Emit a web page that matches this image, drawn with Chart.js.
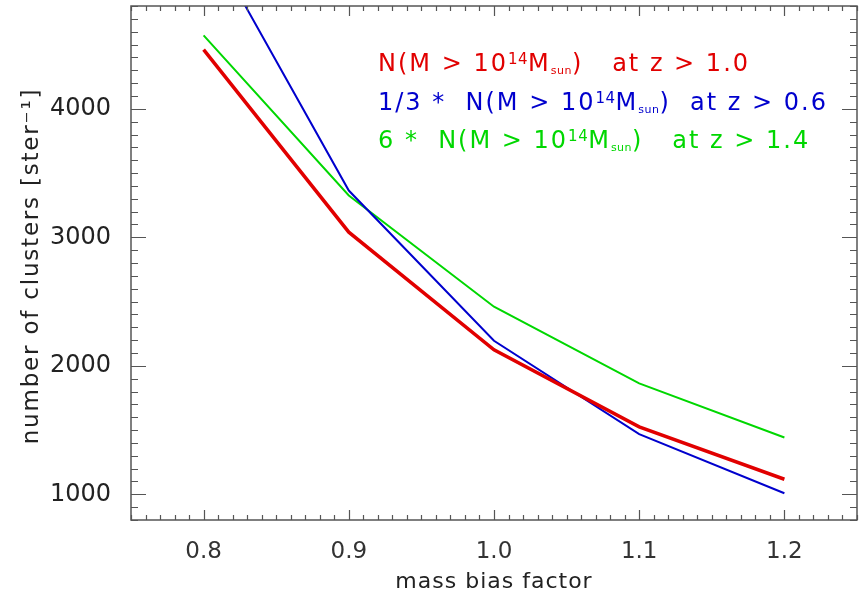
<!DOCTYPE html>
<html>
<head>
<meta charset="utf-8">
<script src="https://cdn.jsdelivr.net/npm/chart.js@4.4.1/dist/chart.umd.min.js"></script>
<style>
  html, body { margin: 0; background: #fff; }
  #wrap { width: 862px; height: 595px; position: relative; }
</style>
</head>
<body>
<div id="wrap"><canvas id="clusterChart"></canvas></div>
<script>
// ─── Data ───────────────────────────────────────────────────────────────────
const biasFactors = [0.8, 0.9, 1.0, 1.1, 1.2];
const countsZ10 = [4460, 3040, 2125, 1525, 1117];   // N(M>1e14) at z>1.0
const countsZ06 = [5380, 3364, 2195, 1468, 1008];   // 1/3 * N at z>0.6
const countsZ14 = [4571, 3325, 2460, 1863, 1442];   // 6 * N at z>1.4
const xTicks = [0.8, 0.9, 1.0, 1.1, 1.2];
const yTicks = [1000, 2000, 3000, 4000];
const xTitle = 'mass bias factor';
const yTitle = 'number of clusters [ster⁻¹]';

const RED = 'rgb(225,0,0)';
const BLUE = 'rgb(0,0,205)';
const GREEN = 'rgb(0,215,0)';
const FONT = "'DejaVu Sans', sans-serif";

// legend rows: [text, kind] where kind is n / sup / sub
const legendRows = [
  { color: RED, y: 71, runs: [['N(M > 10', 'n'], ['14', 'sup'], ['M', 'n'], ['sun', 'sub'], [')   at z > 1.0', 'n']] },
  { color: BLUE, y: 110, runs: [['1/3 *  N(M > 10', 'n'], ['14', 'sup'], ['M', 'n'], ['sun', 'sub'], [')  at z > 0.6', 'n']] },
  { color: GREEN, y: 148, runs: [['6 *  N(M > 10', 'n'], ['14', 'sup'], ['M', 'n'], ['sun', 'sub'], [')   at z > 1.4', 'n']] },
];

function toPoints(ys) {
  return biasFactors.map((x, i) => ({ x, y: ys[i] }));
}

// ─── Frame with inward ticks on all sides (IDL style) ───────────────────────
const framePlugin = {
  id: 'frame',
  afterDatasetsDraw(chart) {
    const { ctx, chartArea: a, scales: { x, y } } = chart;
    ctx.save();
    ctx.strokeStyle = '#555';
    ctx.lineWidth = 1.5;
    ctx.strokeRect(a.left, a.top, a.right - a.left, a.bottom - a.top);
    ctx.lineWidth = 1.2;
    ctx.beginPath();
    for (let v = 75; v <= 125; v++) {
      const px = Math.round(x.getPixelForValue(v / 100)) + 0.5;
      const len = v % 10 === 0 ? 10 : 5;
      ctx.moveTo(px, a.bottom); ctx.lineTo(px, a.bottom - len);
      ctx.moveTo(px, a.top); ctx.lineTo(px, a.top + len);
    }
    for (let v = 8; v <= 48; v++) {
      const py = Math.round(y.getPixelForValue(v * 100)) + 0.5;
      const len = v % 10 === 0 ? 15 : 7;
      ctx.moveTo(a.left, py); ctx.lineTo(a.left + len, py);
      ctx.moveTo(a.right, py); ctx.lineTo(a.right - len, py);
    }
    ctx.stroke();
    ctx.restore();
  }
};

// ─── Axis titles + coloured labels top right ────────────────────────────────
const labelPlugin = {
  id: 'labels',
  afterDraw(chart) {
    const { ctx, chartArea: a } = chart;
    ctx.save();
    const hasLS = 'letterSpacing' in ctx;

    // axis titles (drawn here so we can widen letter spacing like the IDL font)
    ctx.fillStyle = '#222';
    ctx.textAlign = 'center';
    ctx.textBaseline = 'alphabetic';
    ctx.font = `22px ${FONT}`;
    if (hasLS) ctx.letterSpacing = '1px';
    ctx.fillText(xTitle, (a.left + a.right) / 2, 588);

    ctx.save();
    ctx.translate(38, (a.top + a.bottom) / 2 + 3);
    ctx.rotate(-Math.PI / 2);
    ctx.font = `23px ${FONT}`;
    if (hasLS) ctx.letterSpacing = '1.8px';
    ctx.fillText(yTitle, 0, 0);
    ctx.restore();

    ctx.textAlign = 'left';
    legendRows.forEach(row => {
      let cx = 378;
      ctx.fillStyle = row.color;
      row.runs.forEach(([txt, kind]) => {
        let dy = 0;
        if (kind === 'sup') { ctx.font = `15px ${FONT}`; dy = -7; if (hasLS) ctx.letterSpacing = '0.5px'; }
        else if (kind === 'sub') { ctx.font = `11px ${FONT}`; dy = 3; if (hasLS) ctx.letterSpacing = '0.5px'; }
        else { ctx.font = `24px ${FONT}`; if (hasLS) ctx.letterSpacing = '2px'; }
        ctx.fillText(txt, cx, row.y + dy);
        cx += ctx.measureText(txt).width;
      });
    });
    ctx.restore();
  }
};

const lineBase = { pointRadius: 0, tension: 0, fill: false, clip: true };

new Chart(document.getElementById('clusterChart'), {
  type: 'line',
  data: {
    datasets: [
      { ...lineBase, label: 'z > 1.0', data: toPoints(countsZ10), borderColor: RED, borderWidth: 3.5 },
      { ...lineBase, label: 'z > 0.6', data: toPoints(countsZ06), borderColor: BLUE, borderWidth: 2 },
      { ...lineBase, label: 'z > 1.4', data: toPoints(countsZ14), borderColor: GREEN, borderWidth: 2 },
    ]
  },
  options: {
    responsive: true,
    maintainAspectRatio: false,
    animation: false,
    layout: { padding: { top: 6, right: 5, left: 0, bottom: 0 } },
    plugins: { legend: { display: false }, tooltip: { enabled: false } },
    scales: {
      x: {
        type: 'linear',
        min: 0.75,
        max: 1.25,
        afterBuildTicks: s => { s.ticks = xTicks.map(v => ({ value: v })); },
        afterFit: s => { s.height = 75; s.paddingLeft = 0; s.paddingRight = 0; },
        grid: { display: false },
        border: { display: false },
        ticks: {
          padding: 10,
          color: '#333',
          font: { family: FONT, size: 23 },
          callback: v => Number(v).toFixed(1),
        },
      },
      y: {
        type: 'linear',
        min: 800,
        max: 4800,
        afterBuildTicks: s => { s.ticks = yTicks.map(v => ({ value: v })); },
        afterFit: s => { s.width = 131; s.paddingTop = 0; s.paddingBottom = 0; },
        grid: { display: false },
        border: { display: false },
        ticks: {
          padding: 12,
          color: '#222',
          font: { family: FONT, size: 24 },
          callback: v => String(v),
        },
      }
    }
  },
  plugins: [framePlugin, labelPlugin]
});
</script>
</body>
</html>
